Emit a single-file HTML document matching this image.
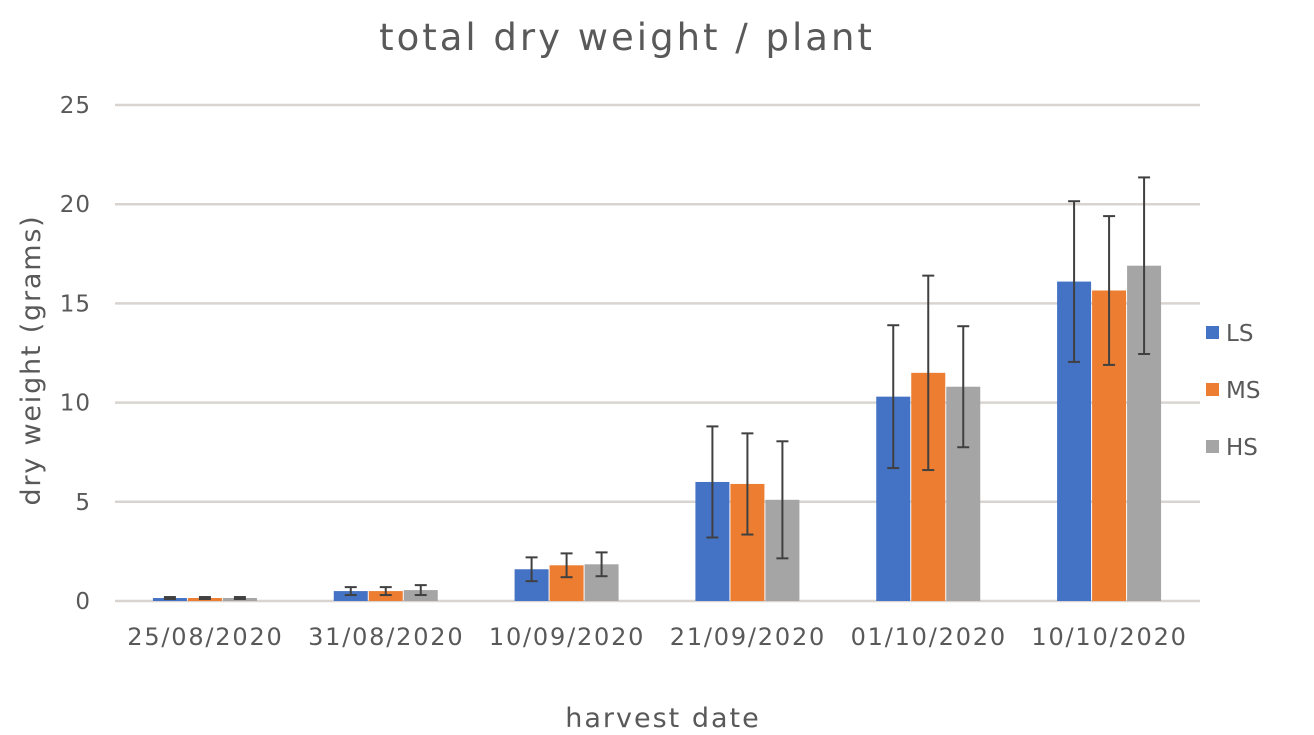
<!DOCTYPE html>
<html><head><meta charset="utf-8"><style>
html,body{margin:0;padding:0;background:#fff;}
svg{display:block;font-family:"DejaVu Sans","Liberation Sans",sans-serif;}
</style></head><body>
<svg id="chart" width="1314" height="735">
<text x="627" y="50" text-anchor="middle" font-size="37" letter-spacing="3" fill="#595959">total dry weight / plant</text>
<text x="663" y="727" text-anchor="middle" font-size="27" letter-spacing="2" fill="#595959">harvest date</text>
<text transform="translate(40,360) rotate(-90)" text-anchor="middle" font-size="27" letter-spacing="1.8" fill="#595959">dry weight (grams)</text>
<g id="grid"></g><g id="bars"></g><g id="errs"></g><g id="xl"></g><g id="legend"></g>
</svg>
<script>
const categories=["25/08/2020","31/08/2020","10/09/2020","21/09/2020","01/10/2020","10/10/2020"];
const seriesNames=["LS","MS","HS"];
const lsValues=[0.15,0.5,1.6,6.0,10.3,16.1];
const msValues=[0.15,0.5,1.8,5.9,11.5,15.65];
const hsValues=[0.15,0.55,1.85,5.1,10.8,16.9];
const lsErr=[0.05,0.2,0.6,2.8,3.6,4.05];
const msErr=[0.05,0.2,0.6,2.55,4.9,3.75];
const hsErr=[0.05,0.25,0.6,2.95,3.05,4.45];
const yTicks=[0,5,10,15,20,25];
const colors=["#4472C4","#ED7D31","#A5A5A5"];
const NS="http://www.w3.org/2000/svg";
const x0=115,x1=1200,y0=601,y1=105,yMax=25;
const ys=v=>y0-(v/yMax)*(y0-y1);
const bw=(x1-x0)/categories.length;
const xc=i=>x0+bw*(i+0.5);
function mk(t,a,p){const e=document.createElementNS(NS,t);for(const k in a)e.setAttribute(k,a[k]);p.appendChild(e);return e;}
const G=id=>document.getElementById(id);
yTicks.forEach(t=>{
  const l=mk('line',{x1:x0,x2:x1,y1:ys(t),y2:ys(t),stroke:'#d9d4d0','stroke-width':2.5},G('grid'));
  
  
  const tx=mk('text',{x:91,y:ys(t)+8,'text-anchor':'end','font-size':23,'letter-spacing':1,fill:'#595959'},G('grid'));
  tx.textContent=t;
  
  
});
const vals=[lsValues,msValues,hsValues],errs=[lsErr,msErr,hsErr];
const barW=34;
categories.forEach((c,i)=>{
  for(let s=0;s<3;s++){
    const bx=xc(i)+(s-1.5)*(barW+1);
    const v=vals[s][i],e=errs[s][i];
    const r=mk('rect',{x:bx,y:ys(v),width:barW,height:y0-ys(v),fill:colors[s]},G('bars'));
    
    
    const cx=bx+barW/2,ya=ys(v+e),yb=ys(Math.max(0,v-e));
    const g=mk('g',{stroke:'#404040','stroke-width':2},G('errs'));
    
    
    mk('line',{x1:cx,x2:cx,y1:ya,y2:yb},g);
    mk('line',{x1:cx-6,x2:cx+6,y1:ya,y2:ya},g);
    mk('line',{x1:cx-6,x2:cx+6,y1:yb,y2:yb},g);
  }
  const t=mk('text',{x:xc(i),y:645,'text-anchor':'middle','font-size':24,'letter-spacing':1.8,fill:'#595959'},G('xl'));
  t.textContent=c;
  
  
});
seriesNames.forEach((n,s)=>{
  const y=333+s*57;
  const g=mk('g',{},G('legend'));
  
  
  mk('rect',{x:1206,y:y-7,width:13,height:13,fill:colors[s]},g);
  const t=mk('text',{x:1226,y:y+8,'font-size':23,fill:'#595959'},g);
  t.textContent=n;
});
</script>
</body></html>
